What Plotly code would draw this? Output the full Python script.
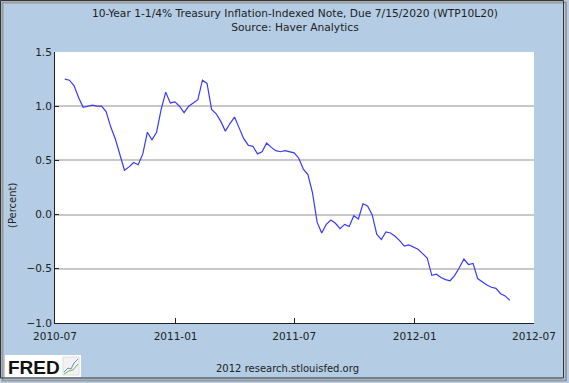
import pandas as pd
import plotly.graph_objects as go

# Weekly observations (Fridays) starting 2010-07-16
start_date = "2010-07-16"
values = [1.25, 1.24, 1.19, 1.08, 0.99, 1.00, 1.01, 1.00, 1.00, 0.95,
          0.81, 0.70, 0.56, 0.41, 0.44, 0.48, 0.46, 0.56, 0.76, 0.69,
          0.76, 0.97, 1.13, 1.03, 1.04, 1.00, 0.94, 1.00, 1.03, 1.06,
          1.24, 1.21, 0.97, 0.93, 0.86, 0.77, 0.84, 0.90, 0.80, 0.70,
          0.64, 0.63, 0.56, 0.58, 0.66, 0.62, 0.59, 0.58, 0.59, 0.58,
          0.57, 0.52, 0.42, 0.37, 0.20, -0.07, -0.17, -0.09, -0.05, -0.08,
          -0.13, -0.09, -0.11, -0.01, -0.04, 0.10, 0.08, 0.00, -0.18, -0.23,
          -0.16, -0.17, -0.20, -0.24, -0.29, -0.28, -0.30, -0.32, -0.36, -0.40,
          -0.56, -0.55, -0.58, -0.60, -0.61, -0.56, -0.49, -0.41, -0.46, -0.45,
          -0.59, -0.62, -0.65, -0.67, -0.68, -0.73, -0.75, -0.79]
dates = pd.date_range(start_date, periods=len(values), freq="7D")

x_tick_vals = ["2010-07-01", "2011-01-01", "2011-07-01", "2012-01-01", "2012-07-01"]
x_tick_text = ["2010-07", "2011-01", "2011-07", "2012-01", "2012-07"]
y_tick_vals = [-1.0, -0.5, 0.0, 0.5, 1.0, 1.5]

title_text = "10-Year 1-1/4% Treasury Inflation-Indexed Note, Due 7/15/2020 (WTP10L20)<br>Source: Haver Analytics"

W, H = 569, 383
L, R, T, B = 55, 534, 52, 323
BG = "#B4CDE5"
FONT = "DejaVu Sans"


def px(xp):
    return (xp - L) / (R - L)


def py(yp):
    return (B - yp) / (B - T)


fig = go.Figure()
fig.add_trace(go.Scatter(x=dates, y=values, mode="lines",
                         line=dict(color="#3A3AF5", width=1.2),
                         hoverinfo="skip", showlegend=False))

fig.update_layout(
    width=W, height=H,
    margin=dict(l=L, r=W - R, t=T, b=H - B, pad=0),
    paper_bgcolor=BG, plot_bgcolor="white",
    font=dict(family=FONT, size=10, color="#222222"),
    showlegend=False,
)
fig.update_xaxes(
    type="date", range=["2010-07-01", "2012-07-01"],
    tickvals=x_tick_vals, ticktext=x_tick_text,
    showgrid=False, showline=True, linecolor="#222222", linewidth=1,
    ticks="inside", ticklen=5, tickcolor="#222222",
    tickfont=dict(family=FONT, size=10.5, color="#222222"),
    ticklabelstandoff=3,
    fixedrange=True,
)
fig.update_yaxes(
    range=[-1.0, 1.5], tickvals=y_tick_vals, tickformat=".1f",
    showgrid=True, gridcolor="#C8C8C8", gridwidth=1.5, zeroline=False,
    showline=True, linecolor="#222222", linewidth=1,
    ticks="inside", ticklen=4, tickcolor="#222222",
    tickfont=dict(family=FONT, size=10.5, color="#222222"),
    fixedrange=True,
)

annotations = [
    dict(text=title_text, x=0.5, xref="paper", y=py(5), yref="paper",
         xanchor="center", yanchor="top", showarrow=False,
         font=dict(family=FONT, size=10.7, color="#222222"), align="center"),
    dict(text="(Percent)", x=px(12), xref="paper", y=py(205), yref="paper",
         xanchor="center", yanchor="middle", textangle=-90, showarrow=False,
         font=dict(family=FONT, size=10, color="#222222")),
    dict(text="2012 research.stlouisfed.org", x=px(287), xref="paper", y=py(368), yref="paper",
         xanchor="center", yanchor="middle", showarrow=False,
         font=dict(family=FONT, size=10, color="#222222")),
    dict(text="<b>FRED</b>", x=px(6), xref="paper", y=py(367), yref="paper",
         xanchor="left", yanchor="middle", showarrow=False,
         font=dict(family="Liberation Sans", size=19, color="#111111")),
]
fig.update_layout(annotations=annotations)

shapes = [
    # outer frame with shadow
    dict(type="rect", xref="paper", yref="paper", x0=px(2.5), x1=px(566), y0=py(2.5), y1=py(380.5),
         line=dict(color="#9A9A9A", width=2), fillcolor="rgba(0,0,0,0)", layer="below"),
    dict(type="rect", xref="paper", yref="paper", x0=px(0.5), x1=px(563.5), y0=py(0.5), y1=py(378),
         line=dict(color="#333333", width=1), fillcolor="rgba(0,0,0,0)", layer="above"),
    # FRED logo box
    dict(type="rect", xref="paper", yref="paper", x0=px(5), x1=px(81), y0=py(355), y1=py(377),
         line=dict(width=0), fillcolor="white", layer="below"),
    dict(type="rect", xref="paper", yref="paper", x0=px(63), x1=px(79), y0=py(357), y1=py(375),
         line=dict(color="#DDDDDD", width=1), fillcolor="#F2F2F2", layer="below"),
    dict(type="path", xref="paper", yref="paper",
         path="M %f,%f L %f,%f L %f,%f L %f,%f L %f,%f" % (px(64), py(372), px(68), py(368), px(71), py(369),
                                                            px(74), py(363), px(78), py(359)),
         line=dict(color="#6A8CC8", width=1)),
    dict(type="path", xref="paper", yref="paper",
         path="M %f,%f L %f,%f L %f,%f L %f,%f" % (px(64), py(374), px(69), py(371), px(73), py(370),
                                                  px(78), py(364)),
         line=dict(color="#7BAF5A", width=1)),
]
fig.update_layout(shapes=shapes)

fig.write_html("out.html", config={"displayModeBar": False},
               post_script="document.body.style.margin='0';document.body.style.overflow='hidden';")
